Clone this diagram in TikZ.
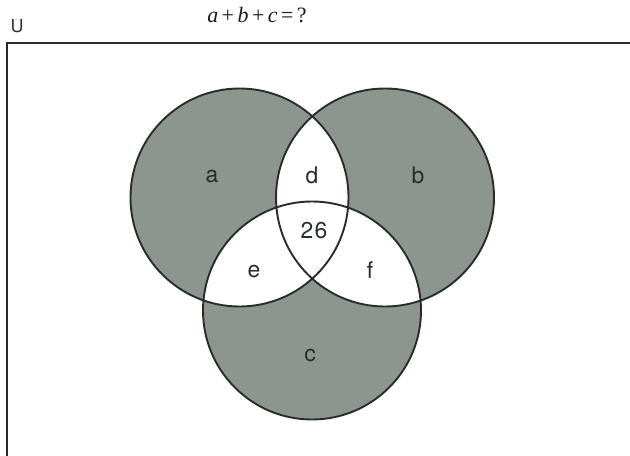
\documentclass[tikz,border=0pt]{standalone}
\usepackage{fontspec}
\setsansfont{TeX Gyre Heros}
\newfontfamily\tmsfont{Liberation Serif}
\definecolor{vshade}{RGB}{140,150,143}
\definecolor{vline}{RGB}{40,45,43}
\newcommand{\opsp}{\kern3.5bp}
\begin{document}
\begin{tikzpicture}[x=1bp,y=-1bp,
  lbl/.style={font=\sffamily\fontsize{23}{23}\selectfont, text=vline},
  ring/.style={draw=vline, line width=1.9bp},
  frame/.style={draw=vline, line width=2bp}]
\useasboundingbox (0,0) rectangle (630,456);
\fill[white] (0,0) rectangle (630,456);
\coordinate (A) at (239.5,197.5);
\coordinate (B) at (385,197.5);
\coordinate (C) at (312,310.5);
\def\rr{109bp}
% frame (universal set, runs off the page)
\coordinate (fbl) at (7,460);
\coordinate (ftl) at (7,43);
\coordinate (ftr) at (632,43);
\draw[frame] (fbl) -- (ftl) -- (ftr);
% shaded circles
\fill[vshade] (A) circle[radius=\rr];
\fill[vshade] (B) circle[radius=\rr];
\fill[vshade] (C) circle[radius=\rr];
% white overlaps
\begin{scope}
  \clip (A) circle[radius=\rr];
  \fill[white] (B) circle[radius=\rr];
  \fill[white] (C) circle[radius=\rr];
\end{scope}
\begin{scope}
  \clip (B) circle[radius=\rr];
  \fill[white] (C) circle[radius=\rr];
\end{scope}
% outlines
\draw[ring] (A) circle[radius=\rr];
\draw[ring] (B) circle[radius=\rr];
\draw[ring] (C) circle[radius=\rr];
% labels
\node[lbl] (la) at (212,176) {a};
\node[lbl] (lb) at (418,175) {b};
\node[lbl] (ld) at (312,175) {d};
\node[lbl] (l26) at (314,231) {2\kern1.5bp 6};
\node[lbl] (le) at (254,271) {e};
\node[lbl] (lf) at (370,270) {f};
\node[lbl] (lc) at (310,355) {c};
\node[font=\sffamily\fontsize{18}{18}\selectfont, text=vline] (U) at (17,26) {U};
\node[font=\tmsfont\fontsize{22}{22}\selectfont, text=black!90] (title) at (257,15)
  {\itshape a\opsp\upshape+\opsp\itshape b\opsp\upshape+\opsp\itshape c\opsp\upshape=\opsp ?};
\end{tikzpicture}
\end{document}
